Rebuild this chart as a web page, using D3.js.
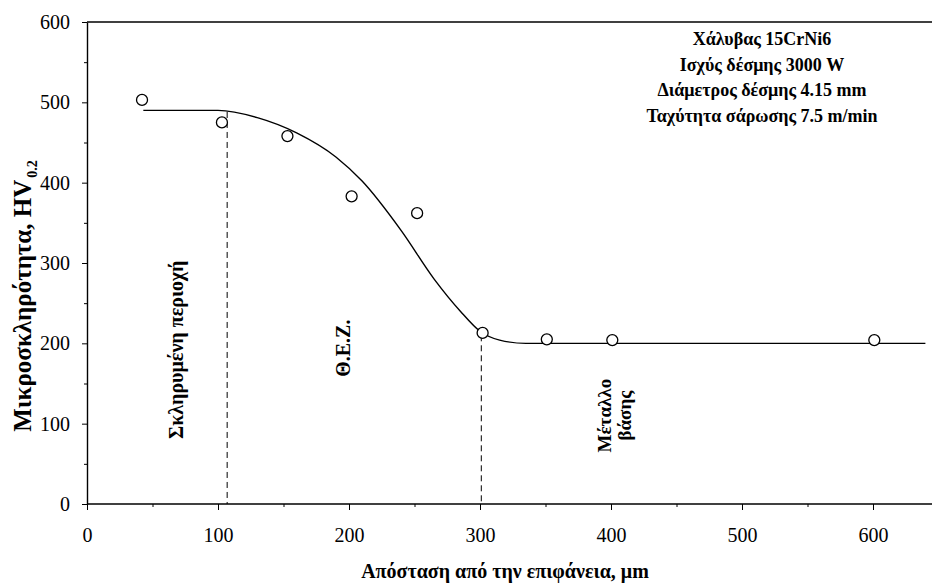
<!DOCTYPE html>
<html><head><meta charset="utf-8">
<script src="https://cdn.jsdelivr.net/npm/d3@7"></script>
<style>body{margin:0;background:#fff}svg{display:block}</style>
</head><body>
<svg id="c" width="932" height="584"></svg>
<script>
// ---- data ----
const distance = [42, 103, 153, 202, 252, 302, 351, 401, 601];
const hardness = [503, 475, 458, 383, 362, 213, 205, 204, 204];
const fitDistance = [43, 100, 130, 160, 190, 210, 240, 265, 285, 300, 315, 335, 400, 640];
const fitHardness = [490, 490, 481, 462, 432, 402, 340, 280, 240, 215, 204, 200, 200, 200];
const xTicks = [0, 100, 200, 300, 400, 500, 600];
const xMinorTicks = [50, 150, 250, 350, 450, 550];
const yTicks = [0, 100, 200, 300, 400, 500, 600];
const yMinorTicks = [50, 150, 250, 350, 450, 550];
const zoneBounds = [107, 301];
const zoneTops = [488, 210];
const zoneNames = ["Σκληρυμένη περιοχή", "Θ.Ε.Ζ."];
const zoneNameX = [73, 201];
const zoneNameY = [192, 194];
const baseNameLines = ["Μέταλλο", "βάσης"];
const baseNameX = [400, 415];
const baseNameY = 110;
const infoLines = ["Χάλυβας 15CrNi6", "Ισχύς δέσμης 3000 W", "Διάμετρος δέσμης 4.15 mm", "Ταχύτητα σάρωσης 7.5 m/min"];
const xTitle = "Απόσταση από την επιφάνεια, μm";
const yTitle = "Μικροσκληρότητα, HV";
const ySub = "0.2";

// ---- drawing ----
const W = 932, H = 584;
const serif = "'Liberation Serif','Times New Roman',serif";
const svg = d3.select("#c");
const x = d3.scaleLinear().domain([0, 650]).range([87, 938.5]);
const y = d3.scaleLinear().domain([0, 600]).range([504, 22]);

// frame: top line
svg.append("line").attr("x1", x(0)).attr("x2", W).attr("y1", y(600)).attr("y2", y(600))
  .attr("stroke", "#000").attr("stroke-width", 1.4);

// x axis
const gx = svg.append("g").attr("transform", `translate(0,${y(0)})`);
gx.call(d3.axisBottom(x).tickValues(xTicks).tickSize(6).tickPadding(18).tickSizeOuter(0))
  .call(g => g.select(".domain").attr("stroke-width", 1.4).attr("d", `M${x(0)},0H${W}`))
  .call(g => g.selectAll("text").attr("font-family", serif).attr("font-size", 20).attr("fill", "#000"));
gx.append("g").call(d3.axisBottom(x).tickValues(xMinorTicks).tickSize(3).tickFormat("").tickSizeOuter(0))
  .call(g => g.select(".domain").remove());

// y axis
const gy = svg.append("g").attr("transform", `translate(${x(0)},0)`);
gy.call(d3.axisLeft(y).tickValues(yTicks).tickSize(5).tickPadding(12).tickSizeOuter(0))
  .call(g => g.select(".domain").attr("stroke-width", 1.4))
  .call(g => g.selectAll("text").attr("font-family", serif).attr("font-size", 20).attr("fill", "#000"));
gy.append("g").call(d3.axisLeft(y).tickValues(yMinorTicks).tickSize(3).tickFormat("").tickSizeOuter(0))
  .call(g => g.select(".domain").remove());

// zone boundaries (dashed)
svg.selectAll("line.zone").data(zoneBounds).join("line").attr("class", "zone")
  .attr("x1", d => x(d)).attr("x2", d => x(d))
  .attr("y1", (d, i) => y(zoneTops[i])).attr("y2", y(0))
  .attr("stroke", "#000").attr("stroke-width", 1).attr("stroke-dasharray", "6,4");

// fitted curve
const fit = fitDistance.map((d, i) => [d, fitHardness[i]]);
svg.append("path").datum(fit)
  .attr("d", d3.line().x(d => x(d[0])).y(d => y(d[1])).curve(d3.curveMonotoneX))
  .attr("fill", "none").attr("stroke", "#000").attr("stroke-width", 1.4);

// measured points
svg.selectAll("circle.pt").data(distance).join("circle").attr("class", "pt")
  .attr("cx", d => x(d)).attr("cy", (d, i) => y(hardness[i])).attr("r", 5.5)
  .attr("fill", "#fff").attr("stroke", "#000").attr("stroke-width", 1.3);

// zone names (rotated)
zoneNames.forEach((t, i) => {
  svg.append("text").text(t)
    .attr("transform", `translate(${x(zoneNameX[i])},${y(zoneNameY[i])}) rotate(-90)`)
    .attr("text-anchor", "middle").attr("font-family", serif).attr("font-weight", "bold")
    .attr("font-size", 20).attr("fill", "#000");
});
baseNameLines.forEach((t, i) => {
  svg.append("text").text(t)
    .attr("transform", `translate(${x(baseNameX[i])},${y(baseNameY)}) rotate(-90)`)
    .attr("text-anchor", "middle").attr("font-family", serif).attr("font-weight", "bold")
    .attr("font-size", 19).attr("fill", "#000");
});

// info block
const info = svg.append("text").attr("font-family", serif).attr("font-weight", "bold")
  .attr("font-size", 18).attr("text-anchor", "middle").attr("fill", "#000");
infoLines.forEach((t, i) => {
  info.append("tspan").attr("x", 762).attr("y", 45 + i * 25.5).text(t);
});

// axis titles
svg.append("text").text(xTitle)
  .attr("x", 505).attr("y", 578).attr("text-anchor", "middle")
  .attr("font-family", serif).attr("font-weight", "bold").attr("font-size", 20).attr("fill", "#000");
const yt = svg.append("text")
  .attr("transform", `translate(31,296) rotate(-90)`).attr("text-anchor", "middle")
  .attr("font-family", serif).attr("font-weight", "bold").attr("font-size", 25).attr("fill", "#000");
yt.append("tspan").text(yTitle);
yt.append("tspan").text(ySub).attr("font-size", 14).attr("dy", 6).attr("dx", 2);
</script>
</body></html>
